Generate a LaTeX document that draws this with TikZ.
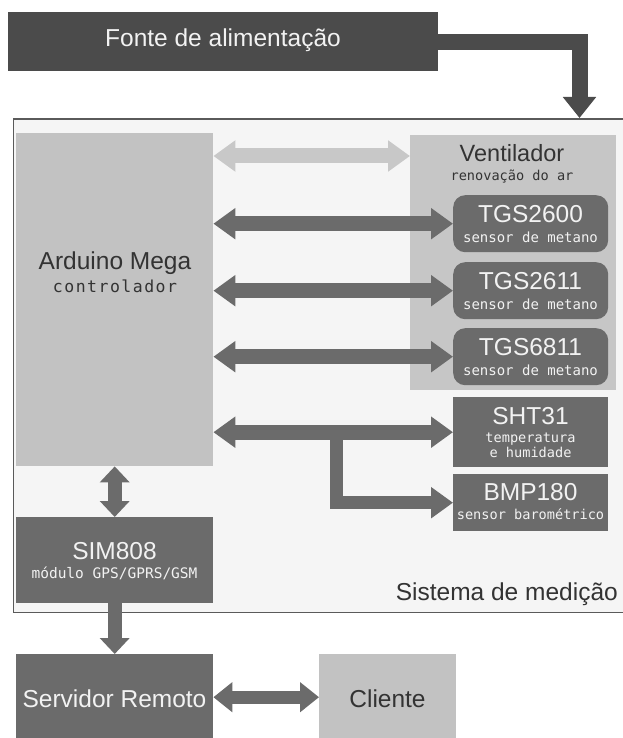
\documentclass[tikz,border=0pt]{standalone}
\usepackage{fontspec}
\setmainfont{Liberation Sans}
\newfontfamily\monoft{DejaVu Sans Mono}
\newfontfamily\monowide[LetterSpace=9]{DejaVu Sans Mono}
\usetikzlibrary{arrows.meta}
\definecolor{darkbox}{HTML}{4B4B4B}
\definecolor{midbox}{HTML}{6B6B6B}
\definecolor{lightbox}{HTML}{C2C2C2}
\definecolor{ventbox}{HTML}{C6C6C6}
\definecolor{lightarrow}{HTML}{C8C8C8}
\definecolor{panel}{HTML}{F5F5F5}
\definecolor{panelline}{HTML}{5A5A5A}
\definecolor{darktext}{HTML}{333333}
\definecolor{lighttext}{HTML}{F2F2F2}
\tikzset{
  box/.style={draw=none, inner sep=0pt, anchor=north west},
  bigtxt/.style={font=\fontsize{24.5}{28}\selectfont, inner sep=0pt, anchor=base},
  smalltxt/.style={font=\monoft\fontsize{13.6}{16}\selectfont, inner sep=0pt, anchor=base},
  fatone/.style={line width=15pt, midbox, -{Triangle[width=30pt,length=22pt]}},
  fatboth/.style={line width=15pt, midbox, {Triangle[width=30pt,length=22pt]}-{Triangle[width=30pt,length=22pt]}},
  fatvone/.style={line width=14pt, midbox, -{Triangle[width=29pt,length=16pt]}},
  fatvboth/.style={line width=14pt, midbox, {Triangle[width=29pt,length=16pt]}-{Triangle[width=29pt,length=16pt]}},
}
\begin{document}
\begin{tikzpicture}[x=1pt,y=-1pt]
\useasboundingbox[fill=white] (0,0) rectangle (623,738);

% measurement system panel
\node[box, fill=panel, draw=panelline, line width=1.3pt, minimum width=612pt, minimum height=493.5pt] (sys) at (12.5,118.5) {};

% power supply
\node[box, fill=darkbox, minimum width=430pt, minimum height=59pt] (fonte) at (8,12) {};
\node[bigtxt, text=lighttext] (fontet) at (223,47) {Fonte de alimentação};

% Arduino
\node[box, fill=lightbox, minimum width=197pt, minimum height=333pt] (ard) at (16,133) {};
\node[bigtxt, text=darktext] (ardt) at (115,269) {Arduino Mega};
\node[inner sep=0pt, anchor=base, text=darktext, font=\monowide\fontsize{16.5}{18}\selectfont] (ards) at (115,292) {controlador};

% Ventilador
\node[box, fill=ventbox, minimum width=206pt, minimum height=255pt] (vent) at (410,135) {};
\node[font=\fontsize{23.5}{26}\selectfont, inner sep=0pt, anchor=base, text=darktext] (ventt) at (512,162) {Ventilador};
\node[smalltxt, text=darktext] (vents) at (512,181) {renovação do ar};

% TGS sensors
\tikzset{tgs/.style={box, fill=midbox, rounded corners=12pt, minimum width=155pt, minimum height=57pt}}
\node[tgs] (tgsA) at (453,195) {};
\node[bigtxt, text=lighttext] (tgsAt) at (530.5,222) {TGS2600};
\node[smalltxt, font=\monoft\fontsize{14}{16}\selectfont, text=lighttext] (tgsAs) at (530.5,242) {sensor de metano};
\node[tgs] (tgsB) at (453,262) {};
\node[bigtxt, text=lighttext] (tgsBt) at (530.5,289) {TGS2611};
\node[smalltxt, font=\monoft\fontsize{14}{16}\selectfont, text=lighttext] (tgsBs) at (530.5,309) {sensor de metano};
\node[tgs] (tgsC) at (453,328) {};
\node[bigtxt, text=lighttext] (tgsCt) at (530.5,355) {TGS6811};
\node[smalltxt, font=\monoft\fontsize{14}{16}\selectfont, text=lighttext] (tgsCs) at (530.5,375) {sensor de metano};

% SHT31 and BMP180
\node[box, fill=midbox, minimum width=155pt, minimum height=70pt] (sht) at (453,397) {};
\node[bigtxt, text=lighttext] (shtt) at (530.5,424) {SHT31};
\node[smalltxt, text=lighttext] (shts1) at (530.5,442) {temperatura};
\node[smalltxt, text=lighttext] (shts2) at (530.5,457) {e humidade};
\node[box, fill=midbox, minimum width=155pt, minimum height=57pt] (bmp) at (453,474) {};
\node[bigtxt, text=lighttext] (bmpt) at (530.5,500) {BMP180};
\node[smalltxt, text=lighttext] (bmps) at (530.5,519) {sensor barométrico};

% SIM808
\node[box, fill=midbox, minimum width=197pt, minimum height=86pt] (sim) at (16,517) {};
\node[bigtxt, text=lighttext] (simt) at (114.5,559) {SIM808};
\node[smalltxt, font=\monoft\fontsize{14.5}{16}\selectfont, text=lighttext] (sims) at (114.5,578) {módulo GPS/GPRS/GSM};

\node[bigtxt, text=darktext, anchor=base east] (syst) at (618,600) {Sistema de medição};

% Servidor and Cliente
\node[box, fill=midbox, minimum width=197pt, minimum height=86pt] (serv) at (16,654) {};
\node[bigtxt, text=lighttext] (servt) at (114.5,707) {Servidor Remoto};
\node[box, fill=lightbox, minimum width=137pt, minimum height=86pt] (cli) at (319,654) {};
\node[bigtxt, text=darktext] (clit) at (387.5,707) {Cliente};

% connectors
\coordinate (pwr) at (579.5,118);
\draw[line width=16pt, darkbox, line join=miter, -{Triangle[width=32pt,length=21pt]}] (fonte.east) -| (pwr);

\coordinate (lv) at (0,156);
\draw[fatboth, lightarrow] (ard.east |- lv) -- (vent.west |- lv);
\draw[fatboth] (ard.east |- tgsA.west) -- (tgsA.west);
\draw[fatboth] (ard.east |- tgsB.west) -- (tgsB.west);
\draw[fatboth] (ard.east |- tgsC.west) -- (tgsC.west);
\draw[fatboth] (ard.east |- sht.west) -- (sht.west);
\coordinate (br) at (336.5,0);
\draw[fatone, line width=13pt, line join=miter] (br |- sht.west) |- (bmp.west);

\draw[fatvboth] (ard.south) -- (sim.north);
\draw[fatvone] (sim.south) -- (serv.north);
\draw[fatboth, line width=13pt, {Triangle[width=29pt,length=19pt]}-{Triangle[width=29pt,length=19pt]}] (serv.east) -- (cli.west);
\end{tikzpicture}
\end{document}
